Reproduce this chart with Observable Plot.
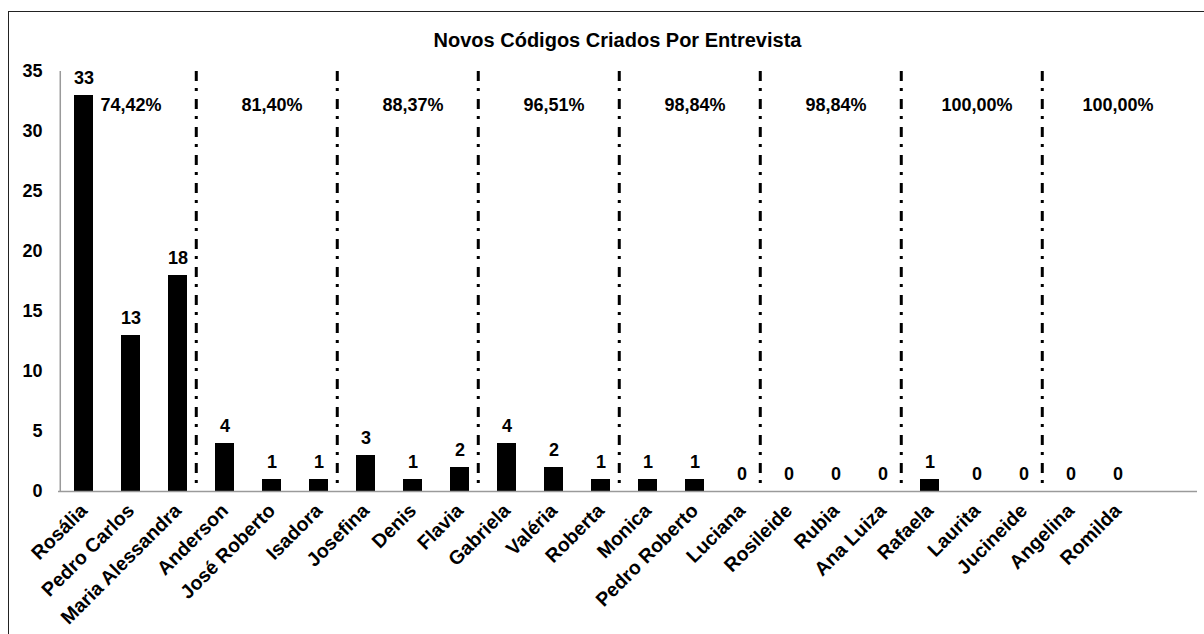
<!DOCTYPE html>
<html><head><meta charset="utf-8">
<script src="https://cdn.jsdelivr.net/npm/d3@7"></script>
<script src="https://cdn.jsdelivr.net/npm/@observablehq/plot@0.6"></script>
<style>
html,body{margin:0;padding:0;background:#fff;}
#wrap{position:relative;width:1204px;height:634px;overflow:hidden;font-family:"Liberation Sans",Arial,sans-serif;}
#border{position:absolute;left:8px;top:10.5px;width:1300px;height:800px;border:1.5px solid #222;}
#title{position:absolute;left:0;top:28px;width:1235px;text-align:center;font-size:20px;font-weight:bold;line-height:24px;color:#000;}
#chart{position:absolute;left:0;top:55px;}
</style></head><body>
<div id="wrap"><div id="border"></div><div id="title">Novos Códigos Criados Por Entrevista</div><div id="chart"></div></div>
<script>
const names = ["Rosália","Pedro Carlos","Maria Alessandra","Anderson","José Roberto","Isadora","Josefina","Denis","Flavia","Gabriela","Valéria","Roberta","Monica","Pedro Roberto","Luciana","Rosileide","Rubia","Ana Luiza","Rafaela","Laurita","Jucineide","Angelina","Romilda"];
const values = [33,13,18,4,1,1,3,1,2,4,2,1,1,1,0,0,0,0,1,0,0,0,0];
const groupStarts = ["Anderson","Josefina","Gabriela","Monica","Rosileide","Rafaela","Angelina"];
const groupMiddles = ["Pedro Carlos","José Roberto","Denis","Valéria","Pedro Roberto","Rubia","Laurita","Romilda"];
const cumulative = ["74,42%","81,40%","88,37%","96,51%","98,84%","98,84%","100,00%","100,00%"];
const yTicks = [0,5,10,15,20,25,30,35];

const data = names.map((name, i) => ({name, value: values[i]}));
const pcts = groupMiddles.map((mid, i) => ({mid, pct: cumulative[i]}));

const W = 1204, H = 579, ML = 58, MR = 7, MT = 16, MB = 143;
const step = (W - ML - MR) / 24;
const font = {fontSize: 18, fontWeight: "bold", fill: "#000"};

const chart = Plot.plot({
  width: W, height: H,
  marginLeft: ML, marginRight: MR, marginTop: MT, marginBottom: MB,
  style: {fontFamily: "'Liberation Sans', Arial, sans-serif", fontSize: "18px", fontWeight: "bold", color: "#000", background: "transparent", overflow: "visible"},
  x: {domain: names, paddingInner: 0.6, paddingOuter: 0.8, align: 0.1875},
  y: {domain: [0, 35]},
  marks: [
    Plot.barY(data, {x: "name", y: "value", fill: "#000"}),
    Plot.ruleY([0], {stroke: "#9a9a9a", strokeWidth: 1.5}),
    Plot.ruleX([names[0]], {dx: -step / 2, stroke: "#9a9a9a", strokeWidth: 1.5}),
    Plot.ruleX(groupStarts, {dx: -step / 2 - 5, stroke: "#000", strokeWidth: 3, strokeDasharray: "10,7,3,8"}),
    Plot.text(data, {x: "name", y: "value", text: d => String(d.value), dy: -17, ...font}),
    Plot.text(pcts, {x: "mid", text: "pct", frameAnchor: "top", dy: 27, ...font}),
    Plot.axisY({ticks: yTicks, tickSize: 0, tickPadding: 16, label: null, ...font}),
    Plot.axisX({tickRotate: -45, tickSize: 0, tickPadding: 16, label: null, ...font, fontSize: 19.5})
  ]
});
document.getElementById("chart").appendChild(chart);
</script>
</body></html>
